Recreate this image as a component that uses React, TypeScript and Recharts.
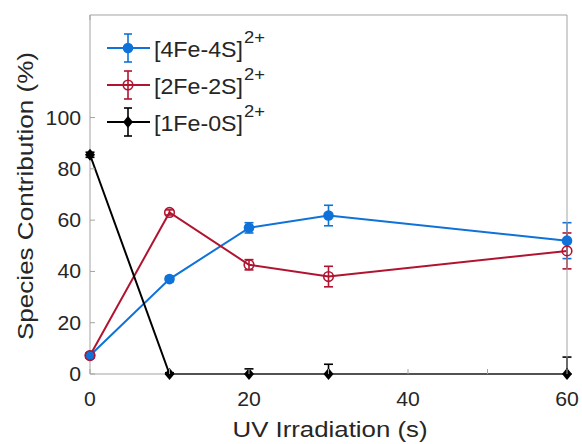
import React from "react";
import { ErrorBar, Line, LineChart, XAxis, YAxis } from "recharts";

const times = [0, 10, 20, 30, 60];
const fe4s4 = [7.2, 37, 57, 61.8, 52];
const fe4s4Err = [1, 1, 2, 4, 7];
const fe2s2 = [7.2, 63, 42.6, 38, 48];
const fe2s2Err = [1, 1, 2, 4, 7];
const fe1s0 = [85.5, 0, 0, 0, 0];
const fe1s0Err = [1, 0.5, 2, 3.8, 6.6];

const xTicks = [0, 10, 20, 30, 40, 50, 60];
const xLabelled = [0, 20, 40, 60];
const yTicks = [0, 20, 40, 60, 80, 100];

const BLUE = "#0f72d8";
const RED = "#b01430";
const BLACK = "#000000";
const AXIS = "#a3a3a3";
const TEXT = "#262626";
const FONT = "'Liberation Sans', Arial, sans-serif";

const W = 582;
const H = 444;
// axes are 1px wide, so these put the plot box at x 90..567, y 15..374
const M = { top: 14, right: 14, bottom: 69, left: 89 };

const data = times.map((t, i) => ({
  t,
  fe4s4: fe4s4[i],
  fe4s4Err: fe4s4Err[i],
  fe2s2: fe2s2[i],
  fe2s2Err: fe2s2Err[i],
  fe1s0: fe1s0[i],
  // error bars cannot go under the axis
  fe1s0Err: [Math.min(fe1s0Err[i], fe1s0[i]), fe1s0Err[i]],
}));

const legendItems = [
  { name: "[4Fe-4S]", color: BLUE, marker: "dot" },
  { name: "[2Fe-2S]", color: RED, marker: "ring" },
  { name: "[1Fe-0S]", color: BLACK, marker: "diamond" },
];

function Marker({ cx, cy, kind, color }: { cx: number; cy: number; kind: string; color: string }) {
  if (kind === "diamond")
    return <polygon points={`${cx},${cy - 6} ${cx + 5},${cy} ${cx},${cy + 6} ${cx - 5},${cy}`} fill={color} />;
  if (kind === "ring") return <circle cx={cx} cy={cy} r={4.8} fill="none" stroke={color} strokeWidth={1.6} />;
  return <circle cx={cx} cy={cy} r={5.3} fill={color} />;
}

const dotFor = (kind: string, color: string) => (p: any) =>
  p.cx == null ? <g key={p.key} /> : <Marker key={p.key} cx={p.cx} cy={p.cy} kind={kind} color={color} />;

const digitsWidth = (s: string) => s.length * 11.8;

function BottomTick(p: any) {
  const v = p.payload.value;
  const label = xLabelled.includes(v) ? String(v) : "";
  return (
    <g>
      <line x1={p.x} x2={p.x} y1={p.y} y2={p.y - 5} stroke={AXIS} />
      {label && (
        <text x={p.x} y={p.y + 32} textAnchor="middle" fontSize={20} fill={TEXT} fontFamily={FONT}
          textLength={digitsWidth(label)} lengthAdjust="spacingAndGlyphs">
          {label}
        </text>
      )}
    </g>
  );
}

function TopTick(p: any) {
  return <line x1={p.x} x2={p.x} y1={p.y} y2={p.y + 5} stroke={AXIS} />;
}

function LeftTick(p: any) {
  const label = String(p.payload.value);
  return (
    <g>
      <line x1={p.x} x2={p.x + 5} y1={p.y} y2={p.y} stroke={AXIS} />
      <text x={p.x - 9} y={p.y + 7} textAnchor="end" fontSize={20} fill={TEXT} fontFamily={FONT}
        textLength={digitsWidth(label)} lengthAdjust="spacingAndGlyphs">
        {label}
      </text>
    </g>
  );
}

function RightTick(p: any) {
  return <line x1={p.x} x2={p.x - 5} y1={p.y} y2={p.y} stroke={AXIS} />;
}

function Overlay() {
  return (
    <svg width={W} height={H} style={{ position: "absolute", left: 0, top: 0, pointerEvents: "none" }}>
      {legendItems.map((it, i) => {
        const cy = 48 + i * 37;
        return (
          <g key={it.name}>
            <line x1={107} x2={150} y1={cy} y2={cy} stroke={it.color} strokeWidth={2} />
            <line x1={128} x2={128} y1={cy - 14} y2={cy + 14} stroke={it.color} strokeWidth={1.6} />
            <line x1={124} x2={132} y1={cy - 14} y2={cy - 14} stroke={it.color} strokeWidth={1.6} />
            <line x1={124} x2={132} y1={cy + 14} y2={cy + 14} stroke={it.color} strokeWidth={1.6} />
            <Marker cx={128} cy={cy} kind={it.marker} color={it.color} />
            <text x={154} y={cy + 9} fontSize={22} fill={TEXT} fontFamily={FONT} textLength={89} lengthAdjust="spacingAndGlyphs">
              {it.name}
            </text>
            <text x={244} y={cy - 5} fontSize={16} fill={TEXT} fontFamily={FONT} textLength={21} lengthAdjust="spacingAndGlyphs">
              2+
            </text>
          </g>
        );
      })}
      <text x={330} y={437} textAnchor="middle" fontSize={22} fill={TEXT} fontFamily={FONT} textLength={195} lengthAdjust="spacingAndGlyphs">
        UV Irradiation (s)
      </text>
      <text x={0} y={0} transform="translate(33,196) rotate(-90)" textAnchor="middle" fontSize={22} fill={TEXT} fontFamily={FONT}
        textLength={288} lengthAdjust="spacingAndGlyphs">
        Species Contribution (%)
      </text>
    </svg>
  );
}

export default function App() {
  return (
    <div style={{ position: "absolute", left: 0, top: 0, width: W, height: H, background: "#fff" }}>
      <LineChart width={W} height={H} data={data} margin={M}>
        <XAxis dataKey="t" type="number" domain={[0, 60]} ticks={xTicks} height={1} tickSize={0} tickMargin={0}
          tickLine={false} axisLine={{ stroke: AXIS }} tick={BottomTick} interval={0} />
        <XAxis xAxisId="top" orientation="top" type="number" domain={[0, 60]} ticks={xTicks} height={1} tickSize={0}
          tickMargin={0} tickLine={false} axisLine={{ stroke: AXIS }} tick={TopTick} interval={0} />
        <YAxis type="number" domain={[0, 140]} ticks={yTicks} width={1} tickSize={0} tickMargin={0}
          tickLine={false} axisLine={{ stroke: AXIS }} tick={LeftTick} interval={0} />
        <YAxis yAxisId="right" orientation="right" type="number" domain={[0, 140]} ticks={yTicks} width={1}
          tickSize={0} tickMargin={0} tickLine={false} axisLine={{ stroke: AXIS }} tick={RightTick} interval={0} />
        <Line dataKey="fe4s4" stroke={BLUE} strokeWidth={2} dot={dotFor("dot", BLUE)} isAnimationActive={false}>
          <ErrorBar dataKey="fe4s4Err" direction="y" width={4.5} stroke={BLUE} strokeWidth={1.6} />
        </Line>
        <Line dataKey="fe2s2" stroke={RED} strokeWidth={2} dot={dotFor("ring", RED)} isAnimationActive={false}>
          <ErrorBar dataKey="fe2s2Err" direction="y" width={4.5} stroke={RED} strokeWidth={1.6} />
        </Line>
        <Line dataKey="fe1s0" stroke={BLACK} strokeWidth={2} dot={dotFor("diamond", BLACK)} isAnimationActive={false}>
          <ErrorBar dataKey="fe1s0Err" direction="y" width={4.5} stroke={BLACK} strokeWidth={1.6} />
        </Line>
      </LineChart>
      <Overlay />
    </div>
  );
}
